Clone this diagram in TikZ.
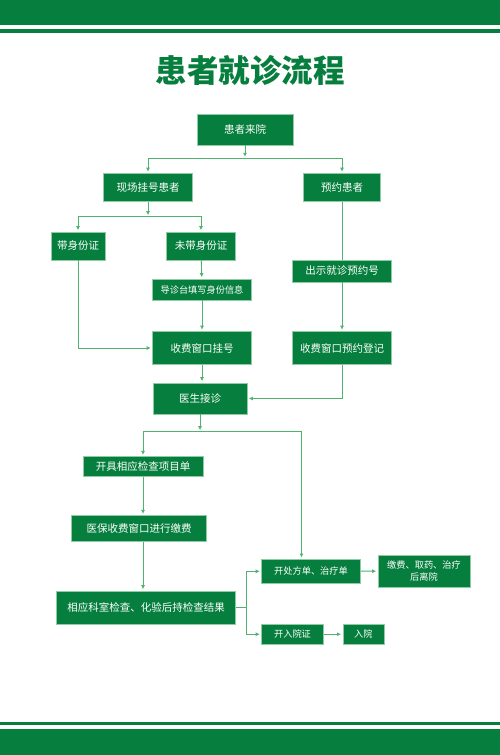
\documentclass[tikz,border=0pt]{standalone}
\usepackage{fontspec}
\newfontfamily\cjk{Noto Sans CJK SC}
\usetikzlibrary{arrows.meta, positioning, calc}
\definecolor{flowgreen}{HTML}{067F3E}
\definecolor{flowgreenborder}{HTML}{8FCCA3}
\definecolor{linkgreen}{HTML}{4DB36E}

\begin{document}
\begin{tikzpicture}[x=1pt, y=-1pt,
      stage/.style={fill=flowgreen, draw=flowgreenborder, line width=0.6pt,
        text=white, align=center, inner sep=0pt, font=\cjk\fontsize{10.5}{12}\selectfont},
      small/.style={font=\cjk\fontsize{9.2}{12.5}\selectfont},
      link/.style={draw=linkgreen, line width=0.9pt},
      arr/.style={link, -{Latex[length=4pt,width=4pt]}, shorten >=1.5pt},
      band/.style={fill=flowgreen, draw=none}
    ]
      \useasboundingbox (0,0) rectangle (500,755);
      \fill[white] (0,0) rectangle (500,755);
      % top and bottom bands
      \fill[band] (0,0) rectangle (500,25);
      \fill[band] (0,29.3) rectangle (500,33);
      \fill[band] (0,721.7) rectangle (500,725);
      \fill[band] (0,729.3) rectangle (500,755);
      \node[text=flowgreen, font=\cjk\bfseries\fontsize{31.5}{34}\selectfont] (title)
        at (250,70) {患者就诊流程};

      \node[stage, minimum width=96pt, minimum height=31pt] (visit)
        at (245,129.5) {患者来院};
      \node[stage, minimum width=89pt, minimum height=28pt] (onsite)
        at (148,187.5) {现场挂号患者};
      \node[stage, minimum width=77pt, minimum height=28pt] (booked)
        at (342,187.5) {预约患者};
      \node[stage, minimum width=54pt, minimum height=28pt] (withid)
        at (78,246) {带身份证};
      \node[stage, minimum width=69pt, minimum height=28pt] (noid)
        at (201,246) {未带身份证};
      \node[stage, small, minimum width=99pt, minimum height=21pt] (guide)
        at (202,289.5) {导诊台填写身份信息};
      \node[stage, minimum width=99pt, minimum height=22pt] (showno)
        at (342,271) {出示就诊预约号};
      \node[stage, minimum width=99pt, minimum height=33pt] (pay)
        at (202,348) {收费窗口挂号};
      \node[stage, minimum width=99pt, minimum height=33pt] (bookreg)
        at (342,348) {收费窗口预约登记};
      \node[stage, minimum width=94pt, minimum height=31pt] (doctor)
        at (200,398.5) {医生接诊};
      \node[stage, minimum width=120pt, minimum height=20pt] (exam)
        at (143,466.7) {开具相应检查项目单};
      \node[stage, minimum width=135pt, minimum height=26pt] (insure)
        at (139,528.7) {医保收费窗口进行缴费};
      \node[stage, minimum width=179pt, minimum height=33pt] (result)
        at (146,607.5) {相应科室检查、化验后持检查结果};
      \node[stage, small, minimum width=99pt, minimum height=24pt] (rx)
        at (311,571.3) {开处方单、治疗单};
      \node[stage, small, minimum width=92pt, minimum height=32pt] (leave)
        at (424,571) {缴费、取药、治疗\\后离院};
      \node[stage, small, minimum width=62pt, minimum height=20pt] (admit)
        at (292.5,634.2) {开入院证};
      \node[stage, small, minimum width=41pt, minimum height=20pt] (inpat)
        at (363.3,634.2) {入院};

      % junctions
      \coordinate (split1) at (245,158.3);
      \coordinate (split2) at (148,216.7);
      \coordinate (split3) at (200,431.7);
      \coordinate (split4) at (246.7,607.5);

      \draw[arr] (visit) -- (split1);
      \draw[arr] (split1) -| (onsite.north);
      \draw[arr] (split1) -| (booked.north);
      \draw[arr] (onsite) -- (split2);
      \draw[arr] (split2) -| (withid.north);
      \draw[arr] (split2) -| (noid.north);
      \draw[arr] (noid) -- (guide);
      \draw[arr] (guide) -- (pay);
      \draw[arr] (withid.south) |- (pay.west);
      \draw[link] (booked.south) -- (booked.south |- showno.north);
      \draw[arr] (showno) -- (bookreg);
      \draw[arr] (bookreg.south) |- (doctor.east);
      \draw[arr] (pay.south) -- (pay.south |- doctor.north);
      \draw[arr] (doctor) -- (split3);
      \draw[arr] (split3) -| (exam.north);
      \draw[arr] (split3) -| ([xshift=-9.5pt]rx.north);
      \draw[arr] (exam) -- (exam.south |- insure.north);
      \draw[arr] (exam.south |- insure.south) -- (exam.south |- result.north);
      \draw[link] (result) -- (split4);
      \draw[arr] (split4) |- (rx.west);
      \draw[arr] (split4) |- (admit.west);
      \draw[arr] (rx) -- (leave);
      \draw[arr] (admit) -- (inpat);
    \end{tikzpicture}
\end{document}
